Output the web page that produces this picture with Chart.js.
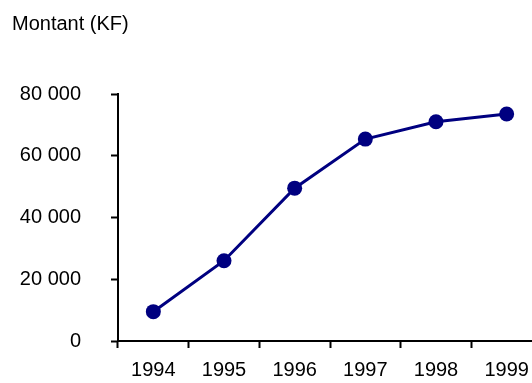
<!DOCTYPE html>
<html>
<head>
<meta charset="utf-8">
<script src="https://cdn.jsdelivr.net/npm/chart.js@4/dist/chart.umd.min.js"></script>
<style>
  html, body { margin: 0; padding: 0; background: #fff; overflow: hidden; }
  #wrap { width: 532px; height: 383px; overflow: hidden; }
  canvas { display: block; }
</style>
</head>
<body>
<div id="wrap"><canvas id="c" width="560" height="383"></canvas></div>
<script>
// Cumulative amount per year, in thousands of francs
const years = ['1994', '1995', '1996', '1997', '1998', '1999'];
const montants = [9500, 26000, 49500, 65400, 71000, 73500];
const yTicks = [0, 20000, 40000, 60000, 80000];

const navy = '#000080';
const fontSpec = { family: '"Liberation Sans", Arial, sans-serif', size: 20, weight: 'normal' };

// French-style thousands grouping with a plain space: 80 000
function groupThousands(v) {
  return String(Math.round(v)).replace(/\B(?=(\d{3})+(?!\d))/g, ' ');
}

new Chart(document.getElementById('c'), {
  type: 'line',
  data: {
    labels: years,
    datasets: [{
      data: montants,
      borderColor: navy,
      backgroundColor: navy,
      borderWidth: 3,
      pointRadius: 7.5,
      pointHoverRadius: 7.5,
      pointBackgroundColor: navy,
      pointBorderColor: navy,
      pointBorderWidth: 0,
      tension: 0,
      fill: false
    }]
  },
  options: {
    responsive: false,
    animation: false,
    devicePixelRatio: 1,
    layout: { padding: { left: 12, right: 18, top: 0, bottom: 0 } },
    plugins: {
      legend: { display: false },
      tooltip: { enabled: false },
      title: {
        display: true,
        text: 'Montant (KF)',
        align: 'start',
        color: '#000',
        font: fontSpec,
        padding: { top: 12, bottom: 58 }
      }
    },
    scales: {
      x: {
        type: 'category',
        offset: true,
        grid: {
          offset: true,
          drawOnChartArea: false,
          drawTicks: true,
          tickLength: 7,
          tickWidth: 2,
          tickColor: '#000'
        },
        border: { display: true, color: '#000', width: 2 },
        ticks: {
          color: '#000',
          font: fontSpec,
          padding: 10,
          maxRotation: 0,
          autoSkip: false
        },
        afterFit(scale) { scale.height = 38; }
      },
      y: {
        min: 0,
        max: 80000,
        afterBuildTicks(scale) {
          scale.ticks = yTicks.map(v => ({ value: v }));
        },
        grid: {
          drawOnChartArea: false,
          drawTicks: true,
          tickLength: 7,
          tickWidth: 2,
          tickColor: '#000'
        },
        border: { display: true, color: '#000', width: 2 },
        ticks: {
          color: '#000',
          font: fontSpec,
          padding: 30,
          callback: v => groupThousands(v)
        },
        afterFit(scale) { scale.width = 106; }
      }
    }
  }
});
</script>
</body>
</html>
